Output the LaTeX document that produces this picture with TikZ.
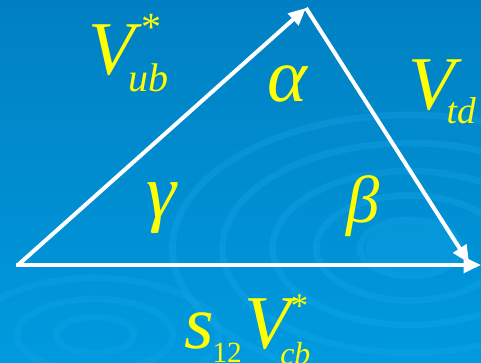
\documentclass[tikz,border=0pt]{standalone}
\usepackage{fontspec}
\setmainfont{Liberation Serif}
\usetikzlibrary{arrows.meta, positioning}
\definecolor{slidetop}{RGB}{0, 128, 194}
\definecolor{slidebot}{RGB}{0, 154, 222}
\definecolor{ripple}{RGB}{30, 175, 240}
\definecolor{labelyellow}{RGB}{255, 255, 0}
% #1 star shift, #2 star raise, #3 star size, #4 sub drop, #5 sub size, #6 sub text
\newcommand{\ckmidx}[6]{%
  \rlap{\kern#1\raisebox{#2}{\fontsize{#3}{#3}\selectfont\upshape *}}%
  \raisebox{-#4}{\fontsize{#5}{#5}\selectfont #6}}
\newcommand{\ckmsub}[3]{\raisebox{-#1}{\fontsize{#2}{#2}\selectfont #3}}

\begin{document}
\begin{tikzpicture}[x=0.75pt, y=-0.75pt,
        vec/.style={draw=white, line width=3pt, -{Triangle[length=13pt, width=11.5pt]}},
        lbl/.style={text=labelyellow, font=\fontsize{57}{57}\selectfont\itshape, inner sep=0pt}]
        % Background
        \useasboundingbox (0,0) rectangle (481,363);
        \shade[top color=slidetop, bottom color=slidebot] (0,0) rectangle (481,363);

        % Ripples
        \begin{scope}
            \clip (0,0) rectangle (481,363);
            \foreach \r in {40, 75, 110, 150, 190} {
                \draw[ripple, opacity=0.25, line width=5pt] (410,248) ellipse ({\r*1.25} and {\r*0.7});
            }
            \fill[ripple, opacity=0.2] (410,248) ellipse (45 and 25);
            \foreach \r in {30, 60, 95} {
                \draw[ripple, opacity=0.2, line width=5pt] (95,335) ellipse ({\r*1.3} and {\r*0.6});
            }
        \end{scope}

        % Vertices
        \coordinate (pA) at (18,265);
        \coordinate (pB) at (306,8);
        \coordinate (pC) at (469,263);
        \coordinate (pD) at (481,265);

        % Sides of the triangle
        \draw[vec] (pA) -- (pB);
        \draw[vec] (pB) -- (pC);
        \draw[vec, shorten <=-1.5pt] (pA) -- (pD);

        % Side labels
        \node[lbl, anchor=base west] (vub) at (88,75)
            {V\kern-5pt\ckmidx{10pt}{26pt}{30pt}{12.5pt}{30pt}{ub}};
        \node[lbl, anchor=base west] (vtd) at (408,110)
            {V\kern-6pt\ckmsub{10pt}{28pt}{td}};
        \node[lbl, anchor=base west] (vcb) at (184,348)
            {s\kern-1pt\ckmsub{10.5pt}{22pt}{\upshape 12}\kern2pt V\kern-8pt\ckmidx{8pt}{23pt}{26pt}{12.5pt}{24pt}{cb}};

        % Angle labels
        \node[lbl] (alpha) at (287,84) {α};
        \node[lbl] (gamma) at (161,208) {γ};
        \node[lbl, font=\fontsize{50}{50}\selectfont\itshape] (beta) at (363,206) {β};
    \end{tikzpicture}
\end{document}
